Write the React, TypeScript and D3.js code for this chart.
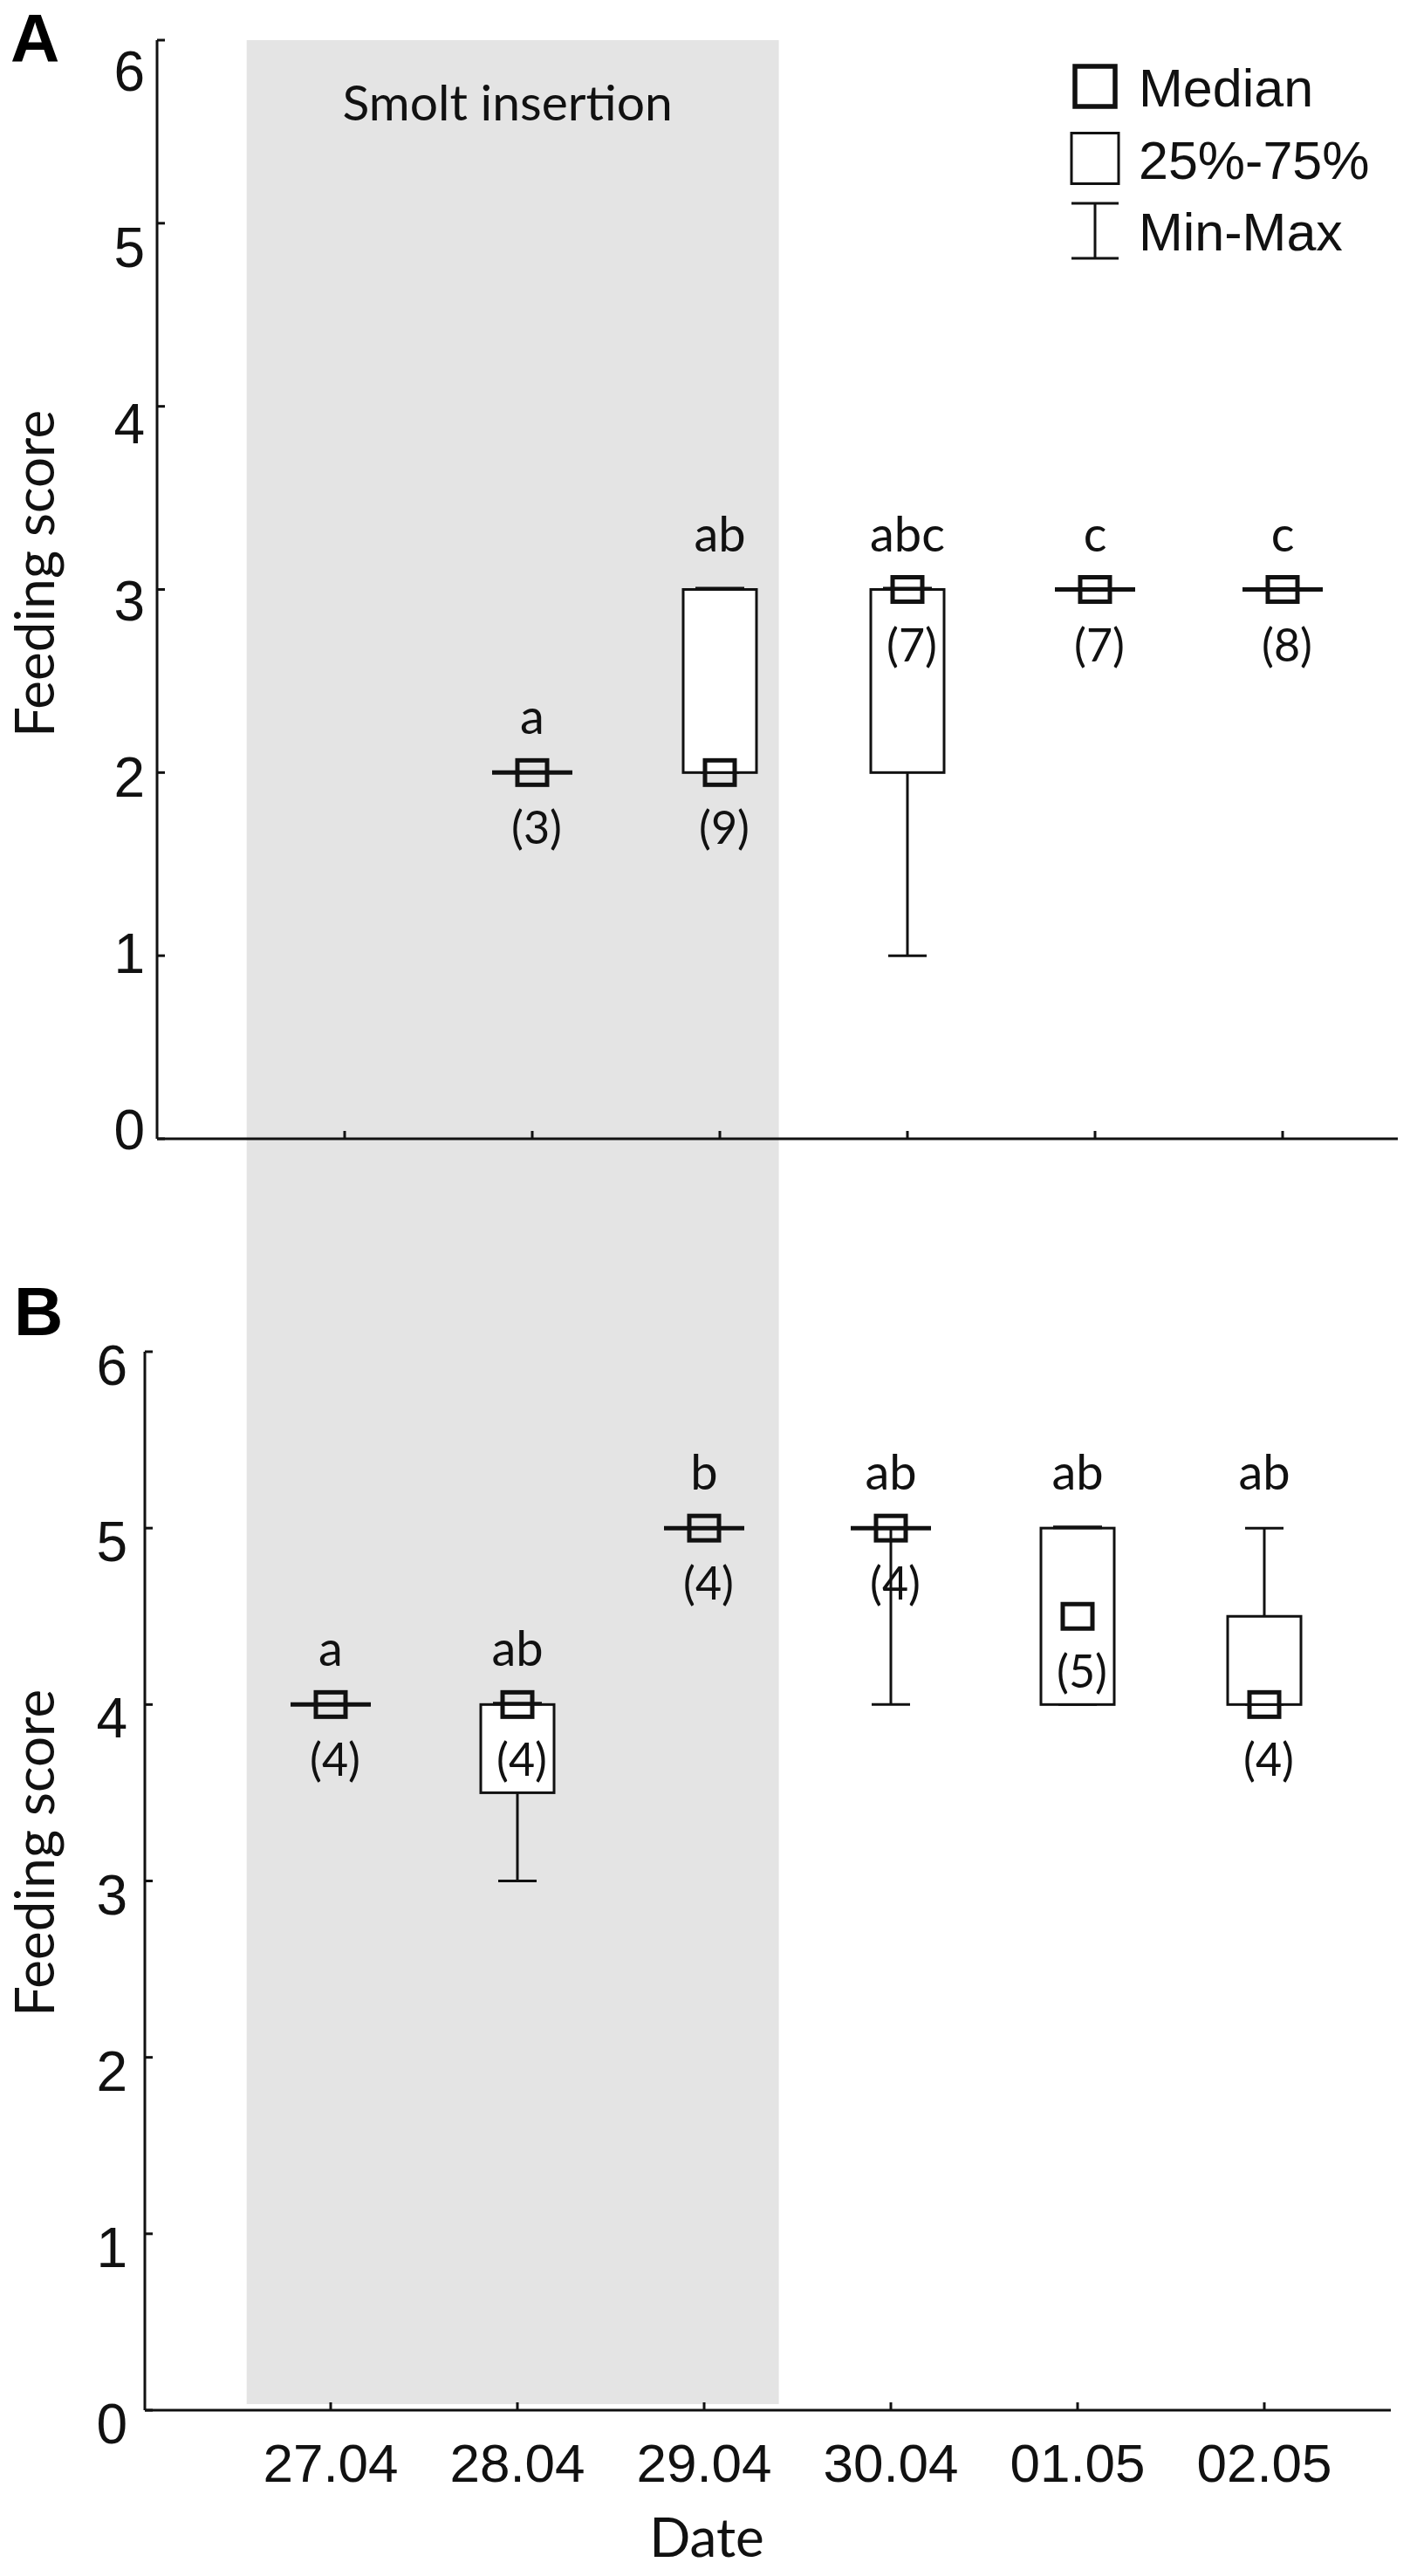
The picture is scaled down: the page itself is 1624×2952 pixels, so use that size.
import { useEffect, useRef } from "react";
import * as d3 from "d3";

const WIDTH = 1624;
const HEIGHT = 2952;

const dates = ["27.04", "28.04", "29.04", "30.04", "01.05", "02.05"];
const yTicks = [0, 1, 2, 3, 4, 5, 6];

// Panel A (null = no sample that day)
const aMin = [null, 2, 2, 1, 3, 3];
const aQ1 = [null, 2, 2, 2, 3, 3];
const aMedian = [null, 2, 2, 3, 3, 3];
const aQ3 = [null, 2, 3, 3, 3, 3];
const aMax = [null, 2, 3, 3, 3, 3];
const aGroups = ["", "a", "ab", "abc", "c", "c"];
const aN = [null, 3, 9, 7, 7, 8];

// Panel B
const bMin = [4, 3, 5, 4, 4, 4];
const bQ1 = [4, 3.5, 5, 5, 4, 4];
const bMedian = [4, 4, 5, 5, 4.5, 4];
const bQ3 = [4, 4, 5, 5, 5, 4.5];
const bMax = [4, 4, 5, 5, 5, 5];
const bGroups = ["a", "ab", "b", "ab", "ab", "ab"];
const bN = [4, 4, 4, 4, 5, 4];

// smolt insertion period, in day-index units
const smoltStart = -0.45;
const smoltEnd = 2.4;

const legendItems = ["Median", "25%-75%", "Min-Max"];

const ARIAL = "'Liberation Sans', Arial, sans-serif";
const CALIBRI = "Lato, 'Open Sans', sans-serif";
const GREY = "#e4e4e4";

const BOX_W = 84;
const CAP_W = 44;
const MED_W = 34;
const MED_H = 28;

interface Panel {
  min: (number | null)[];
  q1: (number | null)[];
  median: (number | null)[];
  q3: (number | null)[];
  max: (number | null)[];
  groups: string[];
  n: (number | null)[];
}

export default function App() {
  const svgRef = useRef<SVGSVGElement>(null);

  useEffect(() => {
    const svg = d3.select(svgRef.current);
    svg.selectAll("*").remove();

    svg.append("rect").attr("width", WIDTH).attr("height", HEIGHT).attr("fill", "#ffffff");

    const yA = d3.scaleLinear().domain([0, 6]).range([1305, 46]);
    const yALabel = d3.scaleLinear().domain([0, 6]).range([1295, 82]);
    const xA = d3.scalePoint<string>().domain(dates).range([395, 1470]);

    const yB = d3.scaleLinear().domain([0, 6]).range([2762, 1549]);
    const yBLabel = d3.scaleLinear().domain([0, 6]).range([2778, 1565]);
    const xB = d3.scalePoint<string>().domain(dates).range([379, 1449]);
    const xBIdx = d3.scaleLinear().domain([0, dates.length - 1]).range(xB.range());

    // Smolt insertion band, spanning both panels
    svg.append("rect")
      .attr("x", xBIdx(smoltStart))
      .attr("y", yA(6))
      .attr("width", xBIdx(smoltEnd) - xBIdx(smoltStart))
      .attr("height", yB(0) - 7 - yA(6))
      .attr("fill", GREY);

    svg.append("text")
      .attr("x", (xBIdx(smoltStart) + xBIdx(smoltEnd)) / 2 - 6)
      .attr("y", 138)
      .attr("text-anchor", "middle")
      .attr("font-family", CALIBRI)
      .attr("font-size", "57px")
      .attr("fill", "#111")
      .text("Smolt insertion");

    function drawAxes(
      y: d3.ScaleLinear<number, number>,
      yLabel: d3.ScaleLinear<number, number>,
      x: d3.ScalePoint<string>,
      axisX: number,
      axisEnd: number,
      labelGap: number,
      showDates: boolean
    ) {
      const g = svg.append("g");
      // y axis
      g.append("line")
        .attr("x1", axisX).attr("x2", axisX)
        .attr("y1", y(6)).attr("y2", y(0))
        .attr("stroke", "#111").attr("stroke-width", 3);
      g.selectAll(".ytick")
        .data(yTicks)
        .join("line")
        .attr("x1", axisX).attr("x2", axisX + 9)
        .attr("y1", (d) => y(d)).attr("y2", (d) => y(d))
        .attr("stroke", "#111").attr("stroke-width", 3);
      g.selectAll(".ylab")
        .data(yTicks)
        .join("text")
        .attr("x", axisX - labelGap)
        .attr("y", (d) => yLabel(d))
        .attr("text-anchor", "end")
        .attr("dominant-baseline", "central")
        .attr("font-family", ARIAL)
        .attr("font-size", "64px")
        .attr("fill", "#111")
        .text((d) => d);
      // x axis
      g.append("line")
        .attr("x1", axisX).attr("x2", axisEnd)
        .attr("y1", y(0)).attr("y2", y(0))
        .attr("stroke", "#111").attr("stroke-width", 3);
      g.selectAll(".xtick")
        .data(dates)
        .join("line")
        .attr("x1", (d) => x(d)!).attr("x2", (d) => x(d)!)
        .attr("y1", y(0)).attr("y2", y(0) - 9)
        .attr("stroke", "#111").attr("stroke-width", 3);
      if (showDates) {
        g.selectAll(".xlab")
          .data(dates)
          .join("text")
          .attr("x", (d) => x(d)!)
          .attr("y", y(0) + 82)
          .attr("text-anchor", "middle")
          .attr("font-family", ARIAL)
          .attr("font-size", "62px")
          .attr("fill", "#111")
          .text((d) => d);
      }
    }

    function drawBoxes(p: Panel, x: d3.ScalePoint<string>, y: d3.ScaleLinear<number, number>) {
      const g = svg.append("g");
      dates.forEach((date, i) => {
        const med = p.median[i];
        if (med == null) return;
        const q1 = p.q1[i]!, q3 = p.q3[i]!, lo = p.min[i]!, hi = p.max[i]!;
        const cx = x(date)!;
        const stroke = "#111";

        // whiskers
        if (hi > q3) {
          g.append("line").attr("x1", cx).attr("x2", cx).attr("y1", y(hi)).attr("y2", y(q3))
            .attr("stroke", stroke).attr("stroke-width", 3);
        }
        if (lo < q1) {
          g.append("line").attr("x1", cx).attr("x2", cx).attr("y1", y(q1)).attr("y2", y(lo))
            .attr("stroke", stroke).attr("stroke-width", 3);
        }
        if (hi > lo) {
          [lo, hi].forEach((v) => {
            g.append("line")
              .attr("x1", cx - CAP_W / 2).attr("x2", cx + CAP_W / 2)
              .attr("y1", y(v)).attr("y2", y(v))
              .attr("stroke", stroke).attr("stroke-width", 3);
          });
        }

        // box
        if (q3 > q1) {
          g.append("rect")
            .attr("x", cx - BOX_W / 2).attr("y", y(q3))
            .attr("width", BOX_W).attr("height", y(q1) - y(q3))
            .attr("fill", "#ffffff").attr("stroke", stroke).attr("stroke-width", 3);
          if (hi === q3) {
            // cap overlapping the top edge
            g.append("line")
              .attr("x1", cx - CAP_W / 2 - 6).attr("x2", cx + CAP_W / 2 + 6)
              .attr("y1", y(hi) - 1).attr("y2", y(hi) - 1)
              .attr("stroke", stroke).attr("stroke-width", 4);
          }
        } else {
          g.append("line")
            .attr("x1", cx - BOX_W / 2 - 4).attr("x2", cx + BOX_W / 2 + 4)
            .attr("y1", y(q1)).attr("y2", y(q1))
            .attr("stroke", stroke).attr("stroke-width", 5);
        }

        // median marker
        g.append("rect")
          .attr("x", cx - MED_W / 2).attr("y", y(med) - MED_H / 2)
          .attr("width", MED_W).attr("height", MED_H)
          .attr("fill", "none").attr("stroke", stroke).attr("stroke-width", 5);

        // group letters and sample size
        g.append("text")
          .attr("x", cx)
          .attr("y", y(hi) - 44)
          .attr("text-anchor", "middle")
          .attr("font-family", CALIBRI)
          .attr("font-size", "56px")
          .attr("fill", "#111")
          .text(p.groups[i]);
        g.append("text")
          .attr("x", cx + 5)
          .attr("y", y(med) + 62)
          .attr("text-anchor", "middle")
          .attr("dominant-baseline", "central")
          .attr("font-family", CALIBRI)
          .attr("font-size", "52px")
          .attr("fill", "#111")
          .text(`(${p.n[i]})`);
      });
    }

    drawAxes(yA, yALabel, xA, 180, 1602, 14, false);
    drawAxes(yB, yBLabel, xB, 166, 1594, 20, true);

    drawBoxes({ min: aMin, q1: aQ1, median: aMedian, q3: aQ3, max: aMax, groups: aGroups, n: aN }, xA, yA);
    drawBoxes({ min: bMin, q1: bQ1, median: bMedian, q3: bQ3, max: bMax, groups: bGroups, n: bN }, xB, yB);

    // Axis titles
    [(yA(0) + yA(6)) / 2 - 18, (yB(0) + yB(6)) / 2 - 32].forEach((cy) => {
      svg.append("text")
        .attr("transform", `translate(62,${cy}) rotate(-90)`)
        .attr("text-anchor", "middle")
        .attr("font-family", CALIBRI)
        .attr("font-size", "62px")
        .attr("fill", "#111")
        .text("Feeding score");
    });
    svg.append("text")
      .attr("x", xB("29.04")! + 3)
      .attr("y", 2930)
      .attr("text-anchor", "middle")
      .attr("font-family", CALIBRI)
      .attr("font-size", "62px")
      .attr("fill", "#111")
      .text("Date");

    // Panel letters
    [["A", 12, 71], ["B", 16, 1530]].forEach(([t, px, py]) => {
      svg.append("text")
        .attr("x", px as number).attr("y", py as number)
        .attr("font-family", ARIAL)
        .attr("font-weight", "bold")
        .attr("font-size", "78px")
        .attr("fill", "#000")
        .text(t as string);
    });

    // Legend, its symbols sit above the 01.05 column of panel A
    const lg = svg.append("g").attr("transform", `translate(${xA("01.05")! - 27},0)`);
    const legendY = d3.scalePoint<string>().domain(legendItems).range([99, 264]);
    lg.append("rect")
      .attr("x", 4).attr("y", legendY("Median")! - 23)
      .attr("width", 46).attr("height", 46)
      .attr("fill", "none").attr("stroke", "#111").attr("stroke-width", 5.5);
    lg.append("rect")
      .attr("x", 0).attr("y", legendY("25%-75%")! - 29)
      .attr("width", 54).attr("height", 58)
      .attr("fill", "#fff").attr("stroke", "#111").attr("stroke-width", 3);
    const my = legendY("Min-Max")!;
    lg.append("line").attr("x1", 27).attr("x2", 27).attr("y1", my - 31).attr("y2", my + 32)
      .attr("stroke", "#111").attr("stroke-width", 3);
    [my - 31, my + 32].forEach((yy) => {
      lg.append("line").attr("x1", 0).attr("x2", 54).attr("y1", yy).attr("y2", yy)
        .attr("stroke", "#111").attr("stroke-width", 3);
    });
    lg.selectAll(".ltext")
      .data(legendItems)
      .join("text")
      .attr("x", 77)
      .attr("y", (d) => legendY(d)! + 23)
      .attr("font-family", ARIAL)
      .attr("font-size", "61px")
      .attr("fill", "#111")
      .text((d) => d);
  }, []);

  return (
    <svg
      ref={svgRef}
      width={WIDTH}
      height={HEIGHT}
      viewBox={`0 0 ${WIDTH} ${HEIGHT}`}
      style={{ position: "absolute", left: 0, top: 0, display: "block" }}
    />
  );
}
